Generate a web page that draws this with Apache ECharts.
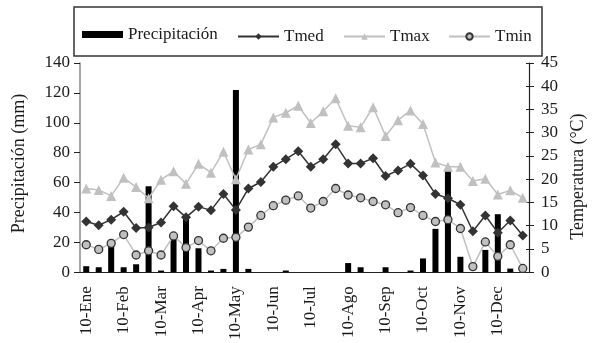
<!DOCTYPE html>
<html>
<head>
<meta charset="utf-8">
<script src="https://cdn.jsdelivr.net/npm/echarts@6/dist/echarts.min.js"></script>
<style>
  html, body { margin: 0; padding: 0; background: #fff; }
  #chart { width: 595px; height: 343px; }
</style>
</head>
<body>
<div id="chart"></div>
<script>
// dekadal values (10, 20, 30 of every month)
const months = ["Ene", "Feb", "Mar", "Apr", "May", "Jun", "Jul", "Ago", "Sep", "Oct", "Nov", "Dec"];
const days = [10, 20, 30];
const categories = [];
months.forEach((m) => days.forEach((d) => categories.push(d + "-" + m)));

const precipitacion = [4, 3.3, 19, 3.3, 5.3, 57.5, 1.1, 23, 37.5, 16, 1.1, 2.2,
  122, 2.2, 0, 0, 1.1, 0, 0, 0, 0, 6.1, 3.3, 0,
  3.3, 0, 1.1, 9.2, 29, 67.6, 10.3, 0, 14.9, 38.8, 2.4, 0];
const tmed = [10.9, 10.1, 11.3, 13.0, 9.5, 9.6, 10.7, 14.2, 11.8, 14.1, 13.3, 16.8,
  13.4, 18.0, 19.4, 22.7, 24.3, 26.0, 22.7, 24.3, 27.5, 23.4, 23.4, 24.5,
  20.7, 21.9, 23.3, 20.8, 16.8, 15.9, 14.5, 8.8, 12.2, 8.5, 11.1, 7.9];
const tmax = [18.0, 17.7, 16.4, 20.3, 18.3, 15.9, 19.9, 21.7, 19.0, 23.3, 21.4, 25.9,
  20.0, 26.4, 27.5, 33.3, 34.3, 35.8, 32.1, 34.6, 37.4, 31.5, 31.2, 35.5,
  29.3, 32.7, 34.8, 31.9, 23.6, 22.7, 22.7, 19.6, 20.1, 16.7, 17.6, 16.0];
const tmin = [5.9, 4.9, 6.2, 8.1, 3.7, 4.6, 3.7, 7.8, 5.3, 6.8, 4.6, 7.3,
  7.5, 9.7, 12.2, 14.3, 15.5, 16.4, 13.8, 15.2, 18.0, 16.6, 16.0, 15.2,
  14.5, 12.8, 13.9, 12.2, 10.9, 11.3, 9.4, 1.2, 6.5, 3.4, 5.9, 0.8];

const FONT = "Liberation Serif";
const INK = "#1a1a1a";

const chart = echarts.init(document.getElementById("chart"), null, { renderer: "canvas" });

// one legend per entry so each can sit where it is in the figure
function legendAt(name, left, extra) {
  return Object.assign({
    data: [name],
    left: left,
    top: 28,
    itemWidth: 41,
    itemHeight: 8,
    padding: 0,
    textStyle: { fontFamily: FONT, fontSize: 17, color: INK },
  }, extra || {});
}

const option = {
  animation: false,
  backgroundColor: "#fff",
  textStyle: { fontFamily: FONT, color: INK },
  graphic: [
    {
      type: "rect",
      shape: { x: 74, y: 7, width: 468, height: 49 },
      style: { fill: "none", stroke: "#333", lineWidth: 1.5 },
      silent: true,
    },
  ],
  legend: [
    legendAt("Precipitación", 82, { icon: "path://M0,0 L41,0 L41,7 L0,7 Z", top: 26, itemHeight: 14 }),
    legendAt("Tmed", 237),
    legendAt("Tmax", 343),
    legendAt("Tmin", 448),
  ],
  grid: { left: 80, right: 63, top: 63, bottom: 68 },
  xAxis: {
    type: "category",
    data: categories,
    axisLine: { lineStyle: { color: "#222", width: 1.2 } },
    axisTick: { interval: 0, length: 5, lineStyle: { color: "#222" } },
    axisLabel: {
      interval: 2,
      rotate: 90,
      margin: 14,
      fontFamily: FONT,
      fontSize: 17,
      color: INK,
    },
    splitLine: { show: false },
  },
  yAxis: [
    {
      type: "value",
      min: 0,
      max: 140,
      interval: 20,
      position: "left",
      name: "Precipitación (mm)",
      nameLocation: "middle",
      nameRotate: 90,
      nameGap: 52,
      nameTextStyle: { fontFamily: FONT, fontSize: 18, color: INK, padding: [0, 0, 0, 8] },
      axisLine: { show: true, lineStyle: { color: "#8a8a8a", width: 1.5 } },
      axisTick: { show: true, length: 6, lineStyle: { color: "#222" } },
      axisLabel: { margin: 10, fontFamily: FONT, fontSize: 17, color: INK },
      splitLine: { show: false },
    },
    {
      type: "value",
      min: 0,
      max: 45,
      interval: 5,
      position: "right",
      name: "Temperatura (°C)",
      nameLocation: "middle",
      nameRotate: 90,
      nameGap: 40,
      nameTextStyle: { fontFamily: FONT, fontSize: 18, color: INK, padding: [0, 18, 0, 0] },
      axisLine: { show: true, lineStyle: { color: "#222", width: 1.2 } },
      axisTick: { show: true, length: 5, lineStyle: { color: "#222" } },
      axisLabel: { margin: 12, fontFamily: FONT, fontSize: 17, color: INK },
      splitLine: { show: false },
    },
    {
      // inner half of the crossing ticks on the right axis
      type: "value",
      min: 0,
      max: 45,
      interval: 5,
      position: "right",
      axisLine: { show: false },
      axisTick: { show: true, inside: true, length: 3, lineStyle: { color: "#222" } },
      axisLabel: { show: false },
      splitLine: { show: false },
    },
  ],
  series: [
    {
      name: "Precipitación",
      type: "bar",
      yAxisIndex: 0,
      data: precipitacion,
      barWidth: 6,
      itemStyle: { color: "#000" },
      z: 1,
    },
    {
      name: "Tmed",
      type: "line",
      yAxisIndex: 1,
      data: tmed,
      symbol: "diamond",
      symbolSize: 10,
      showAllSymbol: true,
      lineStyle: { color: "#333", width: 1.5 },
      itemStyle: { color: "#333" },
      z: 4,
    },
    {
      name: "Tmax",
      type: "line",
      yAxisIndex: 1,
      data: tmax,
      symbol: "triangle",
      symbolSize: 10,
      showAllSymbol: true,
      lineStyle: { color: "#c0c0c0", width: 1.5 },
      itemStyle: { color: "#c0c0c0" },
      z: 3,
    },
    {
      name: "Tmin",
      type: "line",
      yAxisIndex: 1,
      data: tmin,
      symbol: "circle",
      symbolSize: 8,
      showAllSymbol: true,
      lineStyle: { color: "#c0c0c0", width: 1.5 },
      itemStyle: { color: "#c0c0c0", borderColor: "#333", borderWidth: 1.3 },
      z: 3,
    },
  ],
};

chart.setOption(option);
</script>
</body>
</html>
